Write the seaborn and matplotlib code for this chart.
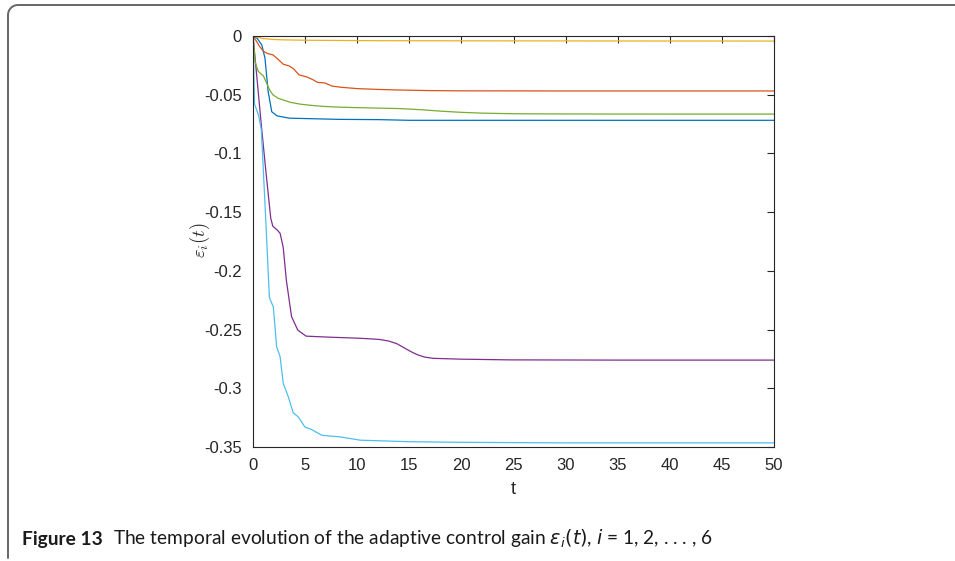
import numpy as np
import pandas as pd
import matplotlib
matplotlib.use("Agg")
import matplotlib.pyplot as plt
import seaborn as sns
from matplotlib.lines import Line2D

# values (t, eps_i(t))
t_yellow = [0, 0.5, 1, 2, 3, 5, 8, 12, 20, 30, 50]
eps_yellow = [0, -0.0012, -0.0022, -0.003, -0.0033, -0.0036, -0.0038, -0.004, -0.0041, -0.0042, -0.0043]

t_orange = [0, 0.3, 0.6, 1.0, 1.4, 1.9, 2.3, 2.9, 3.5, 3.9, 4.4, 5.2, 5.7, 6.2, 6.9, 7.6,
            8.5, 10, 12, 14, 17, 20, 30, 50]
eps_orange = [0, -0.004, -0.0085, -0.013, -0.015, -0.016, -0.019, -0.024, -0.0256, -0.028,
              -0.033, -0.035, -0.037, -0.0395, -0.040, -0.0427, -0.0437, -0.0448, -0.0455,
              -0.046, -0.0465, -0.0467, -0.0468, -0.0468]

t_green = [0, 0.1, 0.2, 0.5, 0.8, 1.0, 1.3, 1.6, 1.9, 2.4, 2.9, 3.6, 4.5, 5.5, 6.7, 8, 10,
           12, 14, 15, 16.5, 18, 20, 22, 25, 30, 40, 50]
eps_green = [0, -0.01, -0.022, -0.030, -0.0325, -0.034, -0.040, -0.046, -0.050, -0.053,
             -0.0545, -0.0565, -0.058, -0.059, -0.0599, -0.0605, -0.061, -0.0614, -0.0618,
             -0.0622, -0.063, -0.064, -0.065, -0.0657, -0.0662, -0.0664, -0.0665, -0.0665]

t_blue = [0, 0.4, 0.85, 1.15, 1.45, 1.8, 2.3, 3.5, 6, 8.3, 12, 15, 20, 30, 50]
eps_blue = [0, -0.002, -0.0077, -0.019, -0.047, -0.0645, -0.068, -0.070, -0.0705, -0.071,
            -0.0712, -0.0718, -0.0718, -0.0718, -0.0718]

t_purple = [0, 0.35, 0.8, 1.2, 1.7, 1.9, 2.3, 2.6, 2.9, 3.2, 3.7, 4.3, 5.1, 7.4, 10, 11.5,
            12.2, 13.0, 13.8, 14.5, 15.2, 15.8, 16.5, 17.3, 20, 24.6, 35, 50]
eps_purple = [0, -0.033, -0.076, -0.112, -0.155, -0.162, -0.165, -0.168, -0.180, -0.208,
              -0.239, -0.2505, -0.2556, -0.2565, -0.2573, -0.258, -0.2585, -0.2597, -0.262,
              -0.2655, -0.269, -0.2715, -0.2735, -0.2745, -0.2752, -0.2758, -0.276, -0.276]

t_cyan = [0, 0.15, 0.35, 0.55, 0.8, 1.2, 1.57, 1.65, 1.95, 2.27, 2.6, 2.9, 3.38, 3.86,
          4.34, 4.98, 5.6, 6.6, 8.35, 10.3, 15, 20, 30, 50]
eps_cyan = [0, -0.058, -0.063, -0.068, -0.080, -0.152, -0.222, -0.2245, -0.2306, -0.2647,
            -0.273, -0.2957, -0.307, -0.321, -0.3243, -0.333, -0.335, -0.340, -0.3414,
            -0.3442, -0.3455, -0.346, -0.3465, -0.3465]

xticks = [0, 5, 10, 15, 20, 25, 30, 35, 40, 45, 50]
yticks = [0, -0.05, -0.1, -0.15, -0.2, -0.25, -0.3, -0.35]
ytick_labels = ["0", "-0.05", "-0.1", "-0.15", "-0.2", "-0.25", "-0.3", "-0.35"]

series = {
    "e1": (t_blue, eps_blue, "#0072BD"),
    "e2": (t_orange, eps_orange, "#D95319"),
    "e3": (t_yellow, eps_yellow, "#EDB120"),
    "e4": (t_purple, eps_purple, "#7E2F8E"),
    "e5": (t_green, eps_green, "#77AC30"),
    "e6": (t_cyan, eps_cyan, "#4DBEEE"),
}

frames = []
for name, (tt, ee, _) in series.items():
    frames.append(pd.DataFrame({"t": tt, "eps": ee, "gain": name}))
df = pd.concat(frames, ignore_index=True)
palette = {k: v[2] for k, v in series.items()}

sns.set_style("white")
plt.rcParams["font.family"] = ["Liberation Sans", "DejaVu Sans"]
plt.rcParams["axes.unicode_minus"] = False

fig = plt.figure(figsize=(9.55, 5.61), dpi=100)
ax = fig.add_axes([253 / 955, 1 - 447 / 561, (774 - 253) / 955, (447 - 36) / 561])

sns.lineplot(data=df, x="t", y="eps", hue="gain", palette=palette, estimator=None,
             sort=False, linewidth=0.9, legend=False, ax=ax)

ax.set_xlim(0, 50)
ax.set_ylim(-0.35, 0)
ax.set_xticks(xticks)
ax.set_xticklabels([str(x) for x in xticks])
ax.set_yticks(yticks)
ax.set_yticklabels(ytick_labels)
ax.tick_params(direction="in", length=5, width=0.8, top=True, right=True,
               labelsize=12, colors="#262626", pad=8)
for sp in ax.spines.values():
    sp.set_visible(True)
    sp.set_color("#262626")
    sp.set_linewidth(0.8)

ax.set_xlabel("t", fontsize=13, color="#262626", labelpad=6)
ax.set_ylabel("")
fig.text(200 / 955, 1 - 240 / 561, r"$\varepsilon_i(t)$", rotation=90, fontsize=13.5,
         ha="center", va="center", math_fontfamily="cm", color="#262626")

# caption
fig.canvas.draw()
renderer = fig.canvas.get_renderer()
cap1 = fig.text(22 / 955, 1 - 539 / 561, "Figure 13", fontsize=13.8, fontweight="bold",
                family="Lato", va="center", ha="left", color="#1a1a1a")
bb = cap1.get_window_extent(renderer)
fig.text((bb.x1 + 10) / 955, 1 - 539 / 561,
         r"The temporal evolution of the adaptive control gain $\varepsilon_i(t)$, $i$ = 1, 2, . . . , 6",
         fontsize=13.8, family="Lato", va="center", ha="left", color="#1a1a1a",
         math_fontfamily="dejavusans")

# rounded frame on the left and top
r = 10
ang = np.linspace(np.pi, np.pi / 2, 20)
cx, cy = 8 + r, 5 + r
xs = np.concatenate([[8], cx + r * np.cos(ang), [955]])
ys = np.concatenate([[558], cy - r * np.sin(ang), [5]])
fig.add_artist(Line2D(xs / 955, 1 - ys / 561, color="#666666", linewidth=1.4,
                      transform=fig.transFigure))

fig.savefig("out.png", dpi=100)
